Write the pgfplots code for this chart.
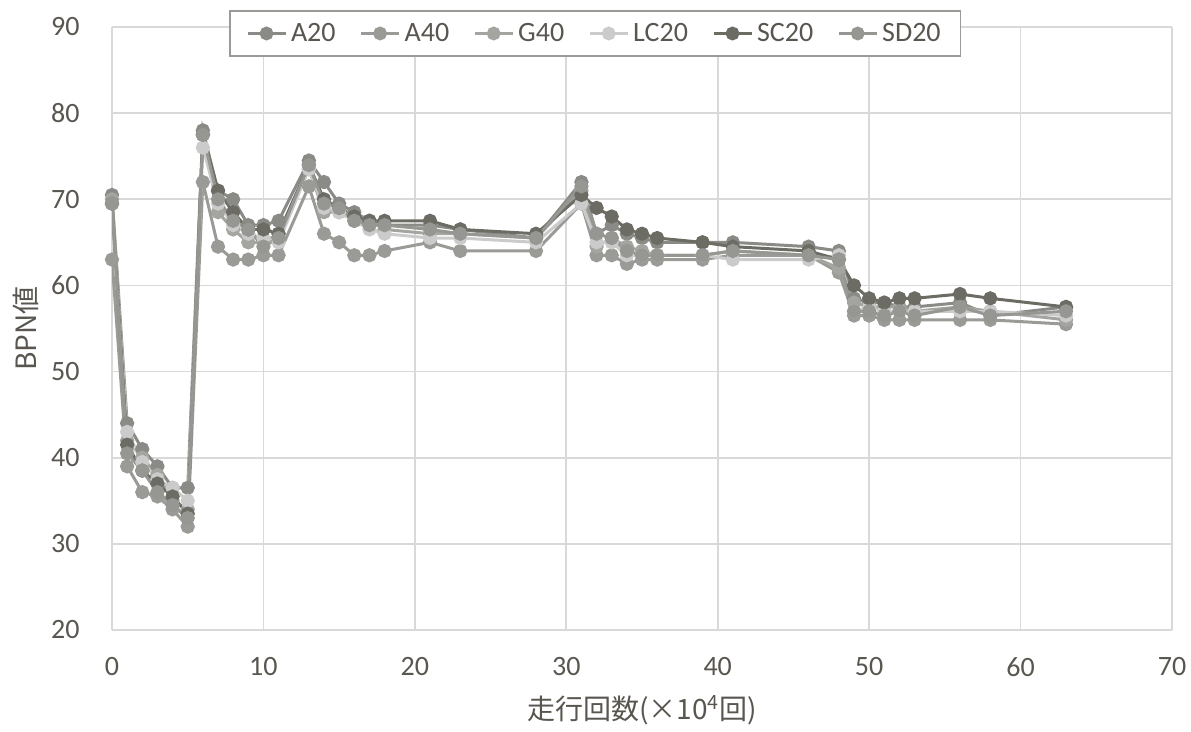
\documentclass[border=0pt]{standalone}
\usepackage{fontspec}
\setmainfont{Carlito}
\newfontfamily\cjk{Noto Sans CJK JP}
\usepackage{pgfplots}
\pgfplotsset{compat=1.18}
\definecolor{cA}{HTML}{8A8A86}
\definecolor{cAf}{HTML}{9A9A96}
\definecolor{cG}{HTML}{A4A4A0}
\definecolor{cLC}{HTML}{CBCBCB}
\definecolor{cSC}{HTML}{6C6C64}
\definecolor{cSD}{HTML}{969692}
\definecolor{txt}{HTML}{595650}
\definecolor{grd}{HTML}{D9D9D9}
\begin{document}
\begin{tikzpicture}
\begin{axis}[
  name=ax,
  scale only axis, width=530pt, height=301.5pt,
  xmin=0, xmax=70, ymin=20, ymax=90,
  xtick={0,10,...,70}, ytick={20,30,...,90},
  grid=major, major grid style={grd, line width=0.8pt},
  axis line style={draw=none}, tick style={draw=none},
  /pgf/number format/assume math mode=true,
  ticklabel style={font=\fontsize{14}{16}\selectfont, text=txt},
  yticklabel style={anchor=east, inner sep=0pt, xshift=-16pt},
  xticklabel style={anchor=center, inner sep=0pt, yshift=-18.5pt},
  xlabel={\cjk 走行回数(×10\textsuperscript{4}回)},
  ylabel={\cjk BPN値},
  every axis x label/.style={at={(rel axis cs:0.5,0)}, anchor=center, yshift=-40pt, font=\fontsize{14}{16}\selectfont, text=txt},
  every axis y label/.style={at={(rel axis cs:0,0.5)}, xshift=-43pt, rotate=90, anchor=center, font=\fontsize{14}{16}\selectfont, text=txt},
  legend columns=6,
  legend style={at={(0.456,1.028)}, anchor=north, draw=txt!60, fill=white, line width=0.8pt,
    font=\fontsize{14}{16}\selectfont, text=txt,
    /tikz/every even column/.append style={column sep=10pt}, inner xsep=8pt, inner ysep=4pt},
  legend image code/.code={\draw[#1, mark=none] (0cm,0cm) -- (19pt,0cm); \fill[#1] (9.5pt,0cm) circle (2.7pt);},
  every axis plot/.append style={line width=1.5pt, mark=*, mark size=2.8pt},
]
\addplot[cA, mark options={fill=cA, draw=none}] coordinates {
(0,70.5)(1,44)(2,41)(3,39)(4,36.5)(5,36.5)(6,78)(7,71)(8,70)(9,67)(10,67)(11,67.5)(13,74.5)(14,72)(15,69.5)(16,68.5)(17,67.5)(18,67)(21,67)(23,66.5)(28,65.5)(31,72)(32,66)(33,67)(34,66)(35,65.5)(36,65)(39,65)(41,65)(46,64.5)(48,64)(49,58.5)(50,58)(51,58)(52,57.5)(53,57.5)(56,58)(58,56.5)(63,57.5)};
\addlegendentry{A20}
\addplot[cAf, mark options={fill=cAf, draw=none}] coordinates {
(0,63)(1,39)(2,36)(3,35.5)(4,34)(5,32)(6,72)(7,64.5)(8,63)(9,63)(10,63.5)(11,63.5)(13,71.5)(14,66)(15,65)(16,63.5)(17,63.5)(18,64)(21,65)(23,64)(28,64)(31,69.5)(32,63.5)(33,63.5)(34,62.5)(35,63)(36,63)(39,63)(41,63.5)(46,63.5)(48,61.5)(49,56.5)(50,56.5)(51,56)(52,56)(53,56)(56,56)(58,56)(63,55.5)};
\addlegendentry{A40}
\addplot[cG, mark options={fill=cG, draw=none}] coordinates {
(0,70)(1,42)(2,40)(3,38)(4,35)(5,34)(6,77.5)(7,68.5)(8,66.5)(9,65)(10,65)(11,66)(13,73.5)(14,68.5)(15,68.5)(16,67.5)(17,67.5)(18,66.5)(21,66)(23,66)(28,65.5)(31,71)(32,64.5)(33,65.5)(34,64.5)(35,64)(36,63.5)(39,63.5)(41,64)(46,63.5)(48,62)(49,58)(50,57.5)(51,57.5)(52,57.5)(53,57)(56,57.5)(58,57)(63,56)};
\addlegendentry{G40}
\addplot[cLC, mark options={fill=cLC, draw=none}] coordinates {
(0,69.5)(1,43)(2,39.5)(3,37.5)(4,36.5)(5,35)(6,76)(7,69.5)(8,67)(9,66)(10,65.5)(11,65)(13,73.5)(14,69)(15,68.5)(16,67.5)(17,66.5)(18,66)(21,65.5)(23,65.5)(28,65)(31,69.5)(32,65)(33,65)(34,63.5)(35,63.5)(36,63.5)(39,63.5)(41,63)(46,63)(48,63.5)(49,57)(50,57.5)(51,57)(52,57)(53,57)(56,57)(58,57)(63,56.5)};
\addlegendentry{LC20}
\addplot[cSC, mark options={fill=cSC, draw=none}] coordinates {
(0,69.5)(1,41.5)(2,38.5)(3,37)(4,35.5)(5,33.5)(6,77.5)(7,71)(8,68.5)(9,66.5)(10,66.5)(11,66)(13,74)(14,70)(15,69)(16,68)(17,67.5)(18,67.5)(21,67.5)(23,66.5)(28,66)(31,70.5)(32,69)(33,68)(34,66.5)(35,66)(36,65.5)(39,65)(41,64.5)(46,64)(48,63)(49,60)(50,58.5)(51,58)(52,58.5)(53,58.5)(56,59)(58,58.5)(63,57.5)};
\addlegendentry{SC20}
\addplot[cSD, mark options={fill=cSD, draw=none}] coordinates {
(0,69.5)(1,40.5)(2,38.5)(3,36)(4,34.5)(5,33)(6,77.5)(7,70)(8,67.5)(9,66.5)(10,64.5)(11,65.5)(13,74)(14,69.5)(15,69)(16,67.5)(17,67)(18,67)(21,66.5)(23,66)(28,65.5)(31,71.5)(32,66)(33,65.5)(34,64)(35,63.5)(36,63.5)(39,63.5)(41,64)(46,63.5)(48,63)(49,57)(50,57)(51,56.5)(52,57)(53,56.5)(56,57.5)(58,56.5)(63,57)};
\addlegendentry{SD20}
\end{axis}
\path ([xshift=-56pt,yshift=-48.5pt]ax.south west) rectangle ([xshift=9.5pt,yshift=13.5pt]ax.north east);
\end{tikzpicture}
\end{document}
